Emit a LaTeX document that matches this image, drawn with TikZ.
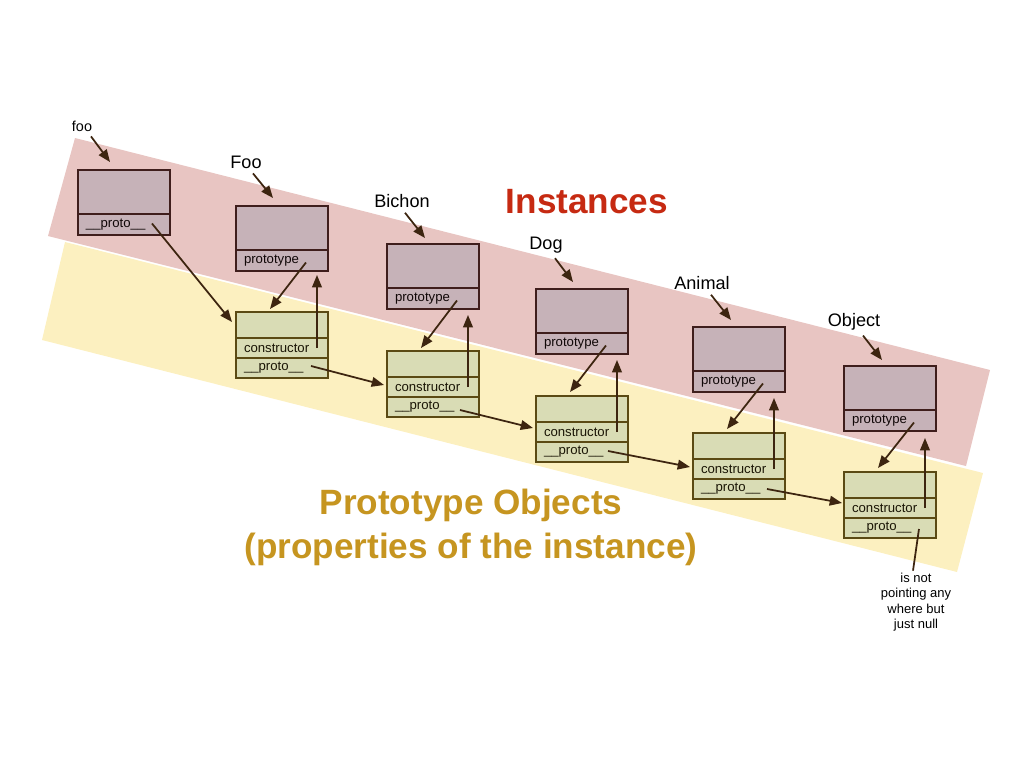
\documentclass[tikz,border=0pt]{standalone}
\usepackage{xcolor}
\usepackage{fontspec}
\setmainfont{Liberation Sans}
\usepackage{tikz}
\usetikzlibrary{positioning,calc,arrows.meta}

\definecolor{redband}{HTML}{E8C5C2}
\definecolor{yellowband}{HTML}{FCF0C0}
\definecolor{instfill}{HTML}{C6B2B8}
\definecolor{instline}{HTML}{3F1E1C}
\definecolor{protofill}{HTML}{D9DCB5}
\definecolor{protoline}{HTML}{5B4A14}
\definecolor{linkcol}{HTML}{3D2510}
\definecolor{titlered}{HTML}{C62A12}
\definecolor{titlegold}{HTML}{C69520}

\begin{document}
\begin{tikzpicture}[x=0.02cm,y=-0.02cm,
    itop/.style={draw=instline,fill=instfill,line width=1.1pt,minimum width=1.84cm,minimum height=0.88cm,inner sep=0pt,outer sep=0pt,anchor=north west},
    irow/.style={draw=instline,fill=instfill,line width=1.1pt,text width=1.52cm,inner xsep=0.16cm,inner ysep=0pt,minimum height=0.42cm,outer sep=0pt,align=left,text=black!75!instline,font=\fontsize{7.5}{9}\selectfont},
    ptop/.style={draw=protoline,fill=protofill,line width=1.1pt,minimum width=1.84cm,minimum height=0.52cm,inner sep=0pt,outer sep=0pt,anchor=north west},
    prow/.style={draw=protoline,fill=protofill,line width=1.1pt,text width=1.52cm,inner xsep=0.16cm,inner ysep=0pt,minimum height=0.4cm,outer sep=0pt,align=left,text=black!70!protoline,font=\fontsize{7.5}{9}\selectfont},
    lbl/.style={inner sep=1pt,font=\fontsize{10.3}{12}\selectfont},
    link/.style={line width=1pt,draw=linkcol,-{Triangle[length=7pt,width=5.5pt]}}
  ]
  \useasboundingbox (0,0) rectangle (1024,768);

  % bands
  \fill[yellowband] (65,242) -- (983,473) -- (957,572) -- (42,340) -- cycle;
  \fill[redband] (75,138) -- (990,370) -- (966,466) -- (48,236) -- cycle;

  \node[font=\bfseries\fontsize{20}{24}\selectfont,text=titlered] (instTitle) at (587,202) {Instances};
  \node[font=\bfseries\fontsize{20}{25}\selectfont,text=titlegold,align=center] (protoTitle) at (471,527) {Prototype Objects\\(properties of the instance)};

  % instances
  \node[itop] (fooTop) at (78,170) {};
  \node[irow,below=0pt of fooTop] (fooRow) {\_\_proto\_\_};
  \node[lbl,font=\fontsize{8.2}{10}\selectfont] (fooLbl) at (82,126) {foo};

  \node[itop] (FooTop) at (236,206) {};
  \node[irow,below=0pt of FooTop] (FooRow) {prototype};
  \node[lbl] (FooLbl) at (246,162) {Foo};

  \node[itop] (BichonTop) at (387,244) {};
  \node[irow,below=0pt of BichonTop] (BichonRow) {prototype};
  \node[lbl] (BichonLbl) at (402,201) {Bichon};

  \node[itop] (DogTop) at (536,289) {};
  \node[irow,below=0pt of DogTop] (DogRow) {prototype};
  \node[lbl] (DogLbl) at (546,245) {Dog};

  \node[itop] (AnimalTop) at (693,327) {};
  \node[irow,below=0pt of AnimalTop] (AnimalRow) {prototype};
  \node[lbl] (AnimalLbl) at (702,283) {Animal};

  \node[itop] (ObjectTop) at (844,366) {};
  \node[irow,below=0pt of ObjectTop] (ObjectRow) {prototype};
  \node[lbl] (ObjectLbl) at (854,322) {Object};

  % prototype objects
  \node[ptop] (FooPTop) at (236,312) {};
  \node[prow,below=0pt of FooPTop] (FooCtor) {constructor};
  \node[prow,below=0pt of FooCtor] (FooProto) {\_\_proto\_\_};

  \node[ptop] (BichonPTop) at (387,351) {};
  \node[prow,below=0pt of BichonPTop] (BichonCtor) {constructor};
  \node[prow,below=0pt of BichonCtor] (BichonProto) {\_\_proto\_\_};

  \node[ptop] (DogPTop) at (536,396) {};
  \node[prow,below=0pt of DogPTop] (DogCtor) {constructor};
  \node[prow,below=0pt of DogCtor] (DogProto) {\_\_proto\_\_};

  \node[ptop] (AnimalPTop) at (693,433) {};
  \node[prow,below=0pt of AnimalPTop] (AnimalCtor) {constructor};
  \node[prow,below=0pt of AnimalCtor] (AnimalProto) {\_\_proto\_\_};

  \node[ptop] (ObjectPTop) at (844,472) {};
  \node[prow,below=0pt of ObjectPTop] (ObjectCtor) {constructor};
  \node[prow,below=0pt of ObjectCtor] (ObjectProto) {\_\_proto\_\_};

  \node[align=center,inner sep=1pt,font=\fontsize{7.4}{8.8}\selectfont] (nullNote) at (916,602) {is not\\pointing any\\where but\\just null};

  % names point at their objects
  \draw[link] ($(fooLbl.south)+(9,3)$) -- ($(fooTop.north west)+(32,-8)$);
  \draw[link] ($(FooLbl.south)+(7,3)$) -- ($(FooTop.north west)+(37,-8)$);
  \draw[link] ($(BichonLbl.south)+(3,3)$) -- ($(BichonTop.north west)+(38,-6)$);
  \draw[link] ($(DogLbl.south)+(9,3)$) -- ($(DogTop.north west)+(37,-7)$);
  \draw[link] ($(AnimalLbl.south)+(9,3)$) -- ($(AnimalTop.north west)+(38,-7)$);
  \draw[link] ($(ObjectLbl.south)+(9,3)$) -- ($(ObjectTop.north west)+(38,-6)$);

  % prototype / constructor
  \draw[link] ($(FooRow.east)+(-22,2)$) -- ($(FooPTop.north)+(-12,-3)$);
  \draw[link] ($(FooCtor.east)+(-11,0)$) -- ($(FooRow.south east)+(-11,4)$);
  \draw[link] ($(BichonRow.east)+(-22,2)$) -- ($(BichonPTop.north)+(-12,-3)$);
  \draw[link] ($(BichonCtor.east)+(-11,0)$) -- ($(BichonRow.south east)+(-11,6)$);
  \draw[link] ($(DogRow.east)+(-22,2)$) -- ($(DogPTop.north)+(-12,-4)$);
  \draw[link] ($(DogCtor.east)+(-11,0)$) -- ($(DogRow.south east)+(-11,6)$);
  \draw[link] ($(AnimalRow.east)+(-22,2)$) -- ($(AnimalPTop.north)+(-12,-4)$);
  \draw[link] ($(AnimalCtor.east)+(-11,0)$) -- ($(AnimalRow.south east)+(-11,6)$);
  \draw[link] ($(ObjectRow.east)+(-22,2)$) -- ($(ObjectPTop.north)+(-12,-4)$);
  \draw[link] ($(ObjectCtor.east)+(-11,0)$) -- ($(ObjectRow.south east)+(-11,7)$);

  % __proto__ chain
  \draw[link] ($(fooRow.east)+(-18,-1)$) -- ($(FooPTop.west)+(-4,-3)$);
  \draw[link] ($(FooProto.east)+(-17,-2)$) -- ($(BichonCtor.west)+(-3,-2)$);
  \draw[link] ($(BichonProto.east)+(-19,3)$) -- ($(DogCtor.west)+(-3,-4)$);
  \draw[link] ($(DogProto.east)+(-20,-1)$) -- ($(AnimalCtor.west)+(-3,-2)$);
  \draw[link] ($(AnimalProto.east)+(-18,0)$) -- ($(ObjectCtor.west)+(-2,-5)$);
  \draw[line width=1pt,linkcol] ($(ObjectProto.east)+(-17,1)$) -- ($(nullNote.north)+(-3,0)$);
\end{tikzpicture}
\end{document}
